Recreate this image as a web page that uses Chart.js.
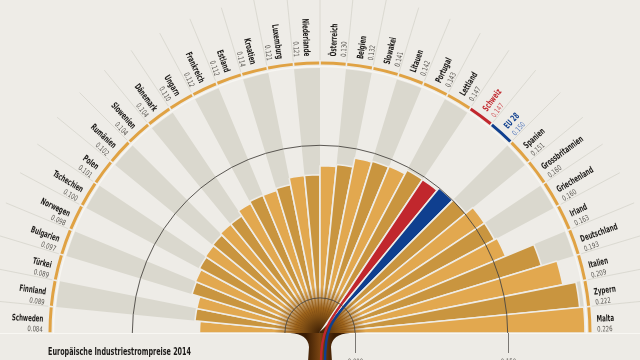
<!DOCTYPE html>
<html>
<head>
<meta charset="utf-8">
<title>Europäische Industriestrompreise 2014</title>
<script src="https://cdn.jsdelivr.net/npm/chart.js@4.4.1/dist/chart.umd.min.js"></script>
<style>
  html, body { margin: 0; padding: 0; background: #eeece7; overflow: hidden; }
  #wrap { width: 640px; height: 360px; position: relative; overflow: hidden; }
</style>
</head>
<body>
<div id="wrap"><canvas id="grafico" width="640" height="600"></canvas></div>
<script>
// Daten (EUR/kWh)
var laender = ['Schweden', 'Finnland', 'Türkei', 'Bulgarien', 'Norwegen', 'Tschechien', 'Polen', 'Rumänien',
  'Slowenien', 'Dänemark', 'Ungarn', 'Frankreich', 'Estland', 'Kroatien', 'Luxemburg', 'Niederlande',
  'Österreich', 'Belgien', 'Slowakei', 'Litauen', 'Portugal', 'Lettland', 'Schweiz', 'EU 28',
  'Spanien', 'Grossbritannien', 'Griechenland', 'Irland', 'Deutschland', 'Italien', 'Zypern', 'Malta'];
var preise = [0.084, 0.089, 0.089, 0.097, 0.098, 0.100, 0.101, 0.102,
  0.104, 0.104, 0.110, 0.112, 0.112, 0.114, 0.121, 0.121,
  0.130, 0.132, 0.141, 0.142, 0.143, 0.147, 0.147, 0.150,
  0.151, 0.160, 0.160, 0.163, 0.193, 0.209, 0.222, 0.226];
// 1 = grauer Streifen im Hintergrund
var streifen = [0, 1, 0, 1, 0, 1, 0, 1, 0, 1, 0, 1, 0, 1, 0, 1,
  0, 1, 0, 1, 0, 1, 0, 0, 1, 0, 1, 0, 1, 0, 1, 0];
var skalaTicks = [0, 0.150];
var skalaMin = -0.0345;
var skalaMax = 0.226;

var FONT = "'Liberation Sans Narrow', 'DejaVu Sans Condensed', 'Arial Narrow', sans-serif";
var hintergrund = '#eeece7';
var farben = {
  hell: '#e2a84f',
  dunkel: '#c9953f',
  grau: '#dad8ce',
  ring: '#e0a243',
  schweiz: '#c1272d',
  eu: '#0f3f8f'
};

function balkenFarbe(i) {
  if (laender[i] === 'Schweiz') return farben.schweiz;
  if (laender[i] === 'EU 28') return farben.eu;
  return streifen[i] ? farben.dunkel : farben.hell;
}

function ringFarbe(i) {
  if (laender[i] === 'Schweiz') return farben.schweiz;
  if (laender[i] === 'EU 28') return farben.eu;
  return farben.ring;
}

// Verlauf zur Mitte hin (dunkelbraun)
function verlauf(ctx, farbe, rand) {
  var chart = ctx.chart;
  var r = chart.scales.r;
  if (!r || !r.drawingArea) return farbe;
  if (farbe === farben.schweiz || farbe === farben.eu) return rand ? hintergrund : farbe;
  var g = chart.ctx.createRadialGradient(r.xCenter, r.yCenter, 0, r.xCenter, r.yCenter, 46);
  if (rand) {
    g.addColorStop(0, 'rgba(60,30,4,1)');
    g.addColorStop(0.55, '#a0661c');
    g.addColorStop(1, hintergrund);
  } else {
    g.addColorStop(0, '#3f1f03');
    g.addColorStop(0.45, '#7a4610');
    g.addColorStop(1, farbe);
  }
  return g;
}

// schmale Schrift: Text horizontal stauchen
function schreiben(ctx, text, x, y, sx) {
  ctx.save();
  ctx.translate(x, y);
  ctx.scale(sx, 1);
  ctx.fillText(text, 0, 0);
  ctx.restore();
}

var deko = {
  id: 'deko',
  afterDatasetsDraw: function (chart) {
    var ctx = chart.ctx;
    var sk = chart.scales.r;
    var cx = sk.xCenter, cy = sk.yCenter;
    var n = laender.length;
    var schritt = Math.PI / n;
    var R = sk.drawingArea;

    ctx.save();

    // Band unten
    ctx.fillStyle = '#edebe6';
    ctx.fillRect(0, cy + 1, 640, 60);
    ctx.strokeStyle = '#f8f7f3';
    ctx.lineWidth = 1.2;
    ctx.beginPath();
    ctx.moveTo(0, cy + 0.5); ctx.lineTo(640, cy + 0.5);
    ctx.stroke();

    // Stiel unten
    var sg = ctx.createLinearGradient(cx - 14, 0, cx + 14, 0);
    sg.addColorStop(0, '#3a1c03');
    sg.addColorStop(0.5, '#7a4512');
    sg.addColorStop(1, '#3a1c03');
    ctx.fillStyle = sg;
    ctx.beginPath();
    ctx.moveTo(cx - 30, cy);
    ctx.quadraticCurveTo(cx - 12, cy + 1, cx - 11, cy + 14);
    ctx.lineTo(cx - 12, 362);
    ctx.lineTo(cx + 12, 362);
    ctx.lineTo(cx + 11, cy + 14);
    ctx.quadraticCurveTo(cx + 12, cy + 1, cx + 30, cy);
    ctx.closePath();
    ctx.fill();

    // rote und blaue Linie in den Stiel
    [['Schweiz', farben.schweiz, 1], ['EU 28', farben.eu, 5]].forEach(function (s) {
      var i = laender.indexOf(s[0]);
      var a = Math.PI + (i + 0.5) * schritt;
      ctx.strokeStyle = s[1];
      ctx.lineWidth = 2.4;
      ctx.beginPath();
      ctx.moveTo(cx + 46 * Math.cos(a), cy + 46 * Math.sin(a));
      ctx.bezierCurveTo(cx + 14 * Math.cos(a), cy + 14 * Math.sin(a), cx + s[2], cy - 2, cx + s[2], 362);
      ctx.stroke();
    });

    // Kreise bei 0 und 0.150
    ctx.strokeStyle = '#4a4642';
    ctx.lineWidth = 0.9;
    skalaTicks.forEach(function (v) {
      var rr = sk.getDistanceFromCenterForValue(v);
      ctx.beginPath();
      ctx.arc(cx, cy, rr, Math.PI, 2 * Math.PI);
      ctx.stroke();
    });

    // Ring aussen
    ctx.strokeStyle = '#f7f6f2';
    ctx.lineWidth = 1.4;
    ctx.beginPath();
    ctx.arc(cx, cy, R + 1.5, Math.PI, 2 * Math.PI);
    ctx.stroke();
    ctx.lineWidth = 3;
    for (var i = 0; i < n; i++) {
      ctx.strokeStyle = ringFarbe(i);
      ctx.beginPath();
      ctx.arc(cx, cy, R + 5, Math.PI + i * schritt + 0.003, Math.PI + (i + 1) * schritt - 0.003);
      ctx.stroke();
    }

    // Trennlinien zwischen den Beschriftungen
    ctx.strokeStyle = '#d6d4cc';
    ctx.lineWidth = 0.8;
    for (var k = 1; k < n; k++) {
      var w = Math.PI + k * schritt;
      ctx.beginPath();
      ctx.moveTo(cx + (R + 8) * Math.cos(w), cy + (R + 8) * Math.sin(w));
      ctx.lineTo(cx + (R + 75) * Math.cos(w), cy + (R + 75) * Math.sin(w));
      ctx.stroke();
    }

    // Beschriftungen
    ctx.textBaseline = 'middle';
    for (var j = 0; j < n; j++) {
      var ang = Math.PI + (j + 0.5) * schritt;
      var rl = R + 12;
      var links = (j + 0.5) * schritt < Math.PI / 2;
      var nameFarbe = '#1c1a18', wertFarbe = '#5a5752';
      if (laender[j] === 'Schweiz') { nameFarbe = farben.schweiz; wertFarbe = '#d0585c'; }
      if (laender[j] === 'EU 28') { nameFarbe = farben.eu; wertFarbe = '#5b7dbd'; }
      ctx.save();
      ctx.translate(cx + rl * Math.cos(ang), cy + rl * Math.sin(ang));
      ctx.rotate(links ? ang + Math.PI : ang);
      ctx.textAlign = links ? 'right' : 'left';
      ctx.fillStyle = nameFarbe;
      ctx.font = 'bold 9px ' + FONT;
      schreiben(ctx, laender[j], 0, 0, 0.68);
      ctx.fillStyle = wertFarbe;
      ctx.font = '7.5px ' + FONT;
      schreiben(ctx, preise[j].toFixed(3), 0, 10.5, 0.8);
      ctx.restore();
    }

    // Skala unten rechts
    ctx.strokeStyle = '#7a7773';
    ctx.lineWidth = 1;
    ctx.fillStyle = '#5a5752';
    ctx.font = '7.5px ' + FONT;
    ctx.textAlign = 'center';
    ctx.textBaseline = 'top';
    skalaTicks.forEach(function (v) {
      var x = Math.round(cx + sk.getDistanceFromCenterForValue(v)) + 0.5;
      ctx.beginPath();
      ctx.moveTo(x, cy);
      ctx.lineTo(x, cy + 20);
      ctx.stroke();
      schreiben(ctx, v.toFixed(3), x, cy + 25, 0.8);
    });

    // Titel
    ctx.fillStyle = '#1c1a18';
    ctx.font = 'bold 10.5px ' + FONT;
    ctx.textAlign = 'left';
    ctx.textBaseline = 'middle';
    schreiben(ctx, 'Europäische Industriestrompreise 2014', 48, 352, 0.68);

    ctx.restore();
  }
};

var ctx = document.getElementById('grafico').getContext('2d');
new Chart(ctx, {
  type: 'polarArea',
  data: {
    labels: laender,
    datasets: [{
      label: 'Industriestrompreis',
      data: preise,
      angle: 180 / laender.length,
      backgroundColor: function (c) { return verlauf(c, balkenFarbe(c.dataIndex), false); },
      borderColor: function (c) { return verlauf(c, balkenFarbe(c.dataIndex), true); },
      borderWidth: 1.6
    }, {
      label: 'Hintergrund',
      data: laender.map(function () { return skalaMax; }),
      angle: 180 / laender.length,
      backgroundColor: streifen.map(function (s) { return s ? farben.grau : 'rgba(0,0,0,0)'; }),
      borderWidth: 0
    }]
  },
  options: {
    responsive: false,
    animation: false,
    devicePixelRatio: 1,
    layout: {
      padding: { left: 55, right: 55, top: 68, bottom: 2 }
    },
    scales: {
      r: {
        startAngle: -90,
        min: skalaMin,
        max: skalaMax,
        ticks: { display: false },
        grid: { display: false },
        angleLines: { display: false },
        pointLabels: { display: false }
      }
    },
    plugins: {
      legend: { display: false },
      tooltip: { enabled: false }
    }
  },
  plugins: [deko]
});
</script>
</body>
</html>
